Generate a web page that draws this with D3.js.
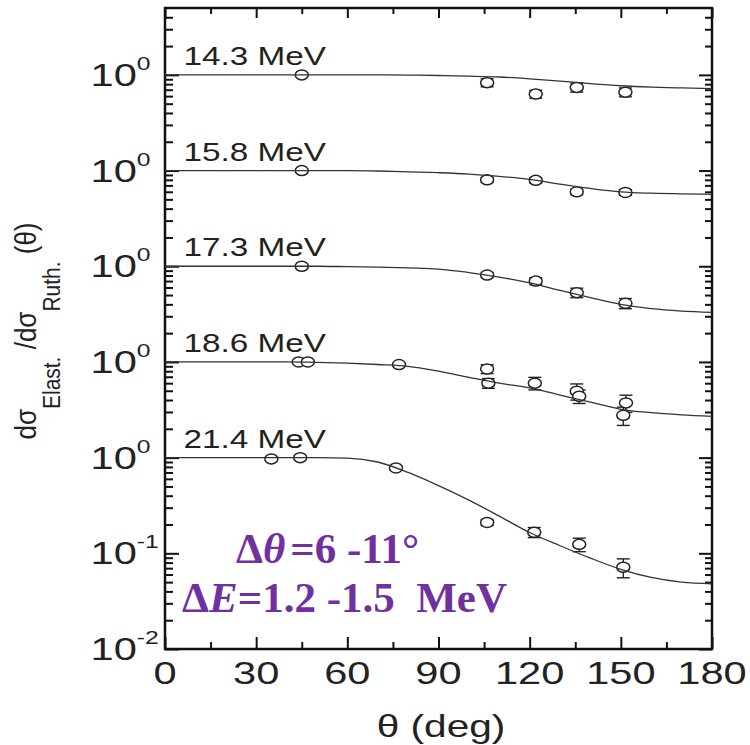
<!DOCTYPE html>
<html>
<head>
<meta charset="utf-8">
<title>Elastic / Rutherford ratio</title>
<script src="https://cdn.jsdelivr.net/npm/d3@7/dist/d3.min.js"></script>
<style>
body { margin: 0; background: #fff; }
svg { display: block; }
</style>
</head>
<body>
<script>
// --- data ---
var labels = ["14.3 MeV", "15.8 MeV", "17.3 MeV", "18.6 MeV", "21.4 MeV"];
var offsets = [1e4, 1e3, 1e2, 1e1, 1];   // each curve shifted by one decade

var curveTheta = [0, 10, 20, 30, 40, 50, 60, 70, 80, 90, 100, 110, 120, 130, 140, 150, 160, 170, 180];
var curve143 = [1, 1, 1, 1, 1, 1, 1, 1, 0.995, 0.985, 0.97, 0.95, 0.91, 0.86, 0.81, 0.77, 0.745, 0.73, 0.72];
var curve158 = [1, 1, 1, 1, 1, 1, 1, 0.99, 0.97, 0.95, 0.92, 0.87, 0.81, 0.72, 0.65, 0.60, 0.58, 0.57, 0.565];
var curve173 = [1, 1, 1, 1, 1, 1, 0.99, 0.98, 0.96, 0.935, 0.86, 0.77, 0.67, 0.56, 0.47, 0.40, 0.36, 0.34, 0.33];
var curve186 = [1, 1, 1, 1, 1, 0.99, 0.97, 0.94, 0.90, 0.80, 0.69, 0.60, 0.535, 0.45, 0.38, 0.32, 0.295, 0.28, 0.27];
var curve214 = [1, 1, 1, 1, 1, 1, 0.99, 0.90, 0.70, 0.51, 0.36, 0.245, 0.165, 0.12, 0.089, 0.068, 0.056, 0.050, 0.048];

// [theta, ratio, error]
var pts143 = [[45, 1.0, 0.03], [106, 0.83, 0.08], [122, 0.63, 0.06], [135.5, 0.74, 0.08], [151.5, 0.66, 0.07]];
var pts158 = [[45, 1.0, 0.03], [106, 0.80, 0.05], [122, 0.79, 0.05], [135.5, 0.60, 0.04], [151.5, 0.59, 0.04]];
var pts173 = [[45, 1.0, 0.03], [106, 0.81, 0.05], [122, 0.70, 0.06], [135.5, 0.53, 0.06], [151.5, 0.41, 0.05]];
var pts186 = [[44, 1.0, 0.03], [47, 1.0, 0.03], [77, 0.94, 0.04], [106, 0.845, 0.09], [106.4, 0.60, 0.07],
              [121.7, 0.60, 0.09], [135.5, 0.494, 0.095], [136.3, 0.438, 0.07], [151.7, 0.373, 0.076], [150.8, 0.277, 0.06]];
var pts214 = [[35, 0.97, 0.04], [44.5, 1.0, 0.04], [76, 0.78, 0.04], [106, 0.21, 0.015],
              [121.5, 0.166, 0.02], [136.3, 0.124, 0.02], [150.8, 0.0715, 0.016]];

var curves = [curve143, curve158, curve173, curve186, curve214];
var points = [pts143, pts158, pts173, pts186, pts214];

var xMajor = [0, 30, 60, 90, 120, 150, 180];
var xMinor = [15, 45, 75, 105, 135, 165];
var yMajor = [1e-2, 1e-1, 1, 1e1, 1e2, 1e3, 1e4];
var yExp = ["-2", "-1", "0", "0", "0", "0", "0"];

// --- layout ---
var w = 750, h = 745;
var pL = 165, pR = 712, pT = 8, pB = 649;
var sx = 1.3;   // the figure is stretched sideways

var svg = d3.select("body").append("svg")
    .attr("width", w)
    .attr("height", h);

var x = d3.scaleLinear().domain([0, 180]).range([pL, pR]);
var y = d3.scaleLog().domain([1e-2, 5e4]).range([pB, pT]);

var yMinor = [];
for (var k = -2; k <= 4; k++) {
    for (var m = 2; m <= 9; m++) {
        var v = m * Math.pow(10, k);
        if (v < 5e4) yMinor.push(v);
    }
}

// ticks, all pointing inward
function tickGroup(axis, tx, ty) {
    var g = svg.append("g")
        .attr("transform", "translate(" + tx + "," + ty + ")")
        .call(axis);
    g.select(".domain").remove();
    g.selectAll("line").attr("stroke", "#111").attr("stroke-width", 2);
}
tickGroup(d3.axisLeft(y).tickValues(yMajor).tickSize(-14).tickFormat(""), pL, 0);
tickGroup(d3.axisLeft(y).tickValues(yMinor).tickSize(-8).tickFormat(""), pL, 0);
tickGroup(d3.axisRight(y).tickValues(yMajor).tickSize(-13).tickFormat(""), pR, 0);
tickGroup(d3.axisRight(y).tickValues(yMinor).tickSize(-7).tickFormat(""), pR, 0);
tickGroup(d3.axisBottom(x).tickValues(xMajor).tickSize(-12).tickFormat(""), 0, pB);
tickGroup(d3.axisBottom(x).tickValues(xMinor).tickSize(-7).tickFormat(""), 0, pB);
tickGroup(d3.axisTop(x).tickValues(xMajor).tickSize(-10).tickFormat(""), 0, pT);
tickGroup(d3.axisTop(x).tickValues(xMinor).tickSize(-6).tickFormat(""), 0, pT);

// frame
svg.append("rect")
    .attr("x", pL).attr("y", pT)
    .attr("width", pR - pL).attr("height", pB - pT)
    .attr("fill", "none")
    .attr("stroke", "#111")
    .attr("stroke-width", 2.5);

// y tick labels: 10 with exponent
yMajor.forEach(function(d, i) {
    var t = svg.append("text")
        .attr("transform", "translate(90.5," + (y(d) + 11) + ") scale(" + sx + ",1)")
        .attr("font-family", "Liberation Sans, Arial, sans-serif")
        .attr("font-size", 32)
        .attr("fill", "#222");
    t.append("tspan").text("10");
    t.append("tspan").attr("dy", -16).attr("font-size", 19).text(yExp[i]);
});

// x tick labels
xMajor.forEach(function(d) {
    svg.append("text")
        .attr("transform", "translate(" + x(d) + ",684) scale(" + sx + ",1)")
        .attr("text-anchor", "middle")
        .attr("font-family", "Liberation Sans, Arial, sans-serif")
        .attr("font-size", 32)
        .attr("fill", "#222")
        .text(d);
});

// axis titles
svg.append("text")
    .attr("transform", "translate(441,737) scale(1.27,1)")
    .attr("text-anchor", "middle")
    .attr("font-family", "Liberation Sans, Arial, sans-serif")
    .attr("font-size", 32)
    .attr("fill", "#222")
    .text("\u03b8 (deg)");

var yl = svg.append("text")
    .attr("transform", "translate(36,331) scale(1.15,1) rotate(-90)")
    .attr("text-anchor", "middle")
    .attr("font-family", "Liberation Sans, Arial, sans-serif")
    .attr("font-size", 26)
    .attr("fill", "#222");
yl.append("tspan").text("d\u03c3");
yl.append("tspan").attr("font-size", 21).attr("dy", 21).text("Elast.");
yl.append("tspan").attr("dy", -21).text(" /d\u03c3");
yl.append("tspan").attr("font-size", 21).attr("dy", 21).text("Ruth.");
yl.append("tspan").attr("dy", -21).text(" (\u03b8)");

// curves, error bars, markers
var line = d3.line()
    .x(function(d) { return x(d[0]); })
    .y(function(d) { return y(d[1]); })
    .curve(d3.curveMonotoneX);

labels.forEach(function(lab, i) {
    var off = offsets[i];

    svg.append("text")
        .attr("transform", "translate(183.4," + (y(off) - 10) + ") scale(1.28,1)")
        .attr("font-family", "Liberation Sans, Arial, sans-serif")
        .attr("font-size", 26)
        .attr("fill", "#222")
        .text(lab);

    var g = svg.append("g");
    var pts = points[i];

    g.selectAll("line.err")
        .data(pts)
        .enter()
        .append("line")
        .attr("class", "err")
        .attr("x1", function(d) { return x(d[0]); })
        .attr("x2", function(d) { return x(d[0]); })
        .attr("y1", function(d) { return y((d[1] + d[2]) * off); })
        .attr("y2", function(d) { return y((d[1] - d[2]) * off); })
        .attr("stroke", "#222")
        .attr("stroke-width", 1.4);

    [1, -1].forEach(function(s) {
        g.selectAll("line.cap" + s)
            .data(pts)
            .enter()
            .append("line")
            .attr("x1", function(d) { return x(d[0]) - 6.5; })
            .attr("x2", function(d) { return x(d[0]) + 6.5; })
            .attr("y1", function(d) { return y((d[1] + s * d[2]) * off); })
            .attr("y2", function(d) { return y((d[1] + s * d[2]) * off); })
            .attr("stroke", "#222")
            .attr("stroke-width", 1.4);
    });

    g.selectAll("ellipse")
        .data(pts)
        .enter()
        .append("ellipse")
        .attr("cx", function(d) { return x(d[0]); })
        .attr("cy", function(d) { return y(d[1] * off); })
        .attr("rx", 6.5)
        .attr("ry", 5)
        .attr("fill", "#fff")
        .attr("stroke", "#222")
        .attr("stroke-width", 1.5);

    var cd = curveTheta.map(function(t, j) { return [t, curves[i][j] * off]; });
    svg.append("path")
        .attr("d", line(cd))
        .attr("fill", "none")
        .attr("stroke", "#333")
        .attr("stroke-width", 1.3);
});

// annotation
var ann = svg.append("g")
    .attr("font-family", "Liberation Serif, Times New Roman, serif")
    .attr("font-weight", "bold")
    .attr("font-size", 43)
    .attr("fill", "#7030a0");
var a1 = ann.append("text").attr("x", 236).attr("y", 563);
a1.append("tspan").text("\u0394");
a1.append("tspan").attr("font-style", "italic").text("\u03b8");
a1.append("tspan").attr("dx", 5).text("=6 -11\u00b0");
var a2 = ann.append("text").attr("x", 182).attr("y", 612);
a2.append("tspan").text("\u0394");
a2.append("tspan").attr("font-style", "italic").text("E");
a2.append("tspan").text("=1.2 -1.5\u00a0 MeV");
</script>
</body>
</html>
